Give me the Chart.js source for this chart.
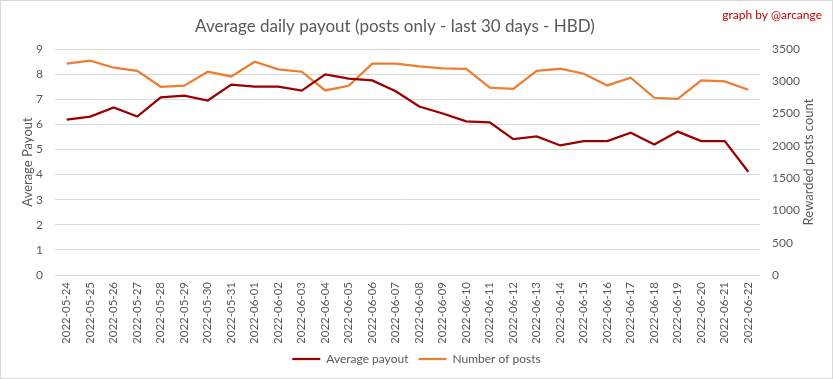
<!DOCTYPE html>
<html>
<head>
<meta charset="utf-8">
<script src="https://cdn.jsdelivr.net/npm/chart.js@4/dist/chart.umd.min.js"></script>
<style>
html,body{margin:0;padding:0;background:#fff;}
#wrap{width:833px;height:379px;position:relative;}
</style>
</head>
<body>
<div id="wrap"><canvas id="c" width="833" height="379"></canvas></div>
<script>
const categories = ["2022-05-24","2022-05-25","2022-05-26","2022-05-27","2022-05-28","2022-05-29","2022-05-30","2022-05-31","2022-06-01","2022-06-02","2022-06-03","2022-06-04","2022-06-05","2022-06-06","2022-06-07","2022-06-08","2022-06-09","2022-06-10","2022-06-11","2022-06-12","2022-06-13","2022-06-14","2022-06-15","2022-06-16","2022-06-17","2022-06-18","2022-06-19","2022-06-20","2022-06-21","2022-06-22"];
const averagePayout = [6.19,6.31,6.67,6.31,7.07,7.14,6.95,7.58,7.50,7.50,7.34,7.99,7.82,7.75,7.32,6.71,6.43,6.12,6.08,5.41,5.52,5.16,5.33,5.33,5.67,5.20,5.71,5.33,5.33,4.11];
const numberOfPosts = [3272,3318,3210,3163,2915,2931,3148,3075,3303,3184,3148,2858,2931,3272,3272,3230,3199,3194,2900,2884,3163,3194,3117,2936,3055,2745,2729,3013,2998,2869];
const leftTicks = {min:0, max:9, step:1};
const rightTicks = {min:0, max:3500, step:500};
const titleText = 'Average daily payout (posts only - last 30 days - HBD)';

const FONT = "Lato, 'Open Sans', sans-serif";
const GREY = "#595959";

const decor = {
  id:'decor',
  beforeDraw(chart){
    const ctx = chart.ctx;
    ctx.save();
    ctx.fillStyle = '#fff';
    ctx.fillRect(0,0,chart.width,chart.height);
    ctx.restore();
  },
  afterDraw(chart){
    const ctx = chart.ctx, a = chart.chartArea;
    ctx.save();
    ctx.strokeStyle = '#d9d9d9';
    ctx.lineWidth = 1;
    ctx.strokeRect(0.5,0.5,chart.width-1,chart.height-1);
    // title
    ctx.fillStyle = GREY;
    ctx.font = "17px " + FONT;
    ctx.textAlign = 'center';
    ctx.textBaseline = 'alphabetic';
    ctx.fillText(titleText, 395, 32);
    // credit
    ctx.fillStyle = '#c00000';
    ctx.font = "12px " + FONT;
    ctx.textAlign = 'right';
    ctx.textBaseline = 'middle';
    ctx.fillText('graph by @arcange', 822, 15);
    // right axis title
    ctx.translate(809, (a.top + a.bottom)/2);
    ctx.rotate(-Math.PI/2);
    ctx.fillStyle = GREY;
    ctx.font = "13px " + FONT;
    ctx.textAlign = 'center';
    ctx.fillText('Rewarded posts count', 0, 0);
    ctx.restore();
  }
};

new Chart(document.getElementById('c'), {
  type:'line',
  data:{
    labels: categories,
    datasets:[
      {label:'Average payout', data: averagePayout, yAxisID:'y', borderColor:'#9a0000', backgroundColor:'#9a0000', borderWidth:2.25, pointRadius:0, tension:0},
      {label:'Number of posts', data: numberOfPosts, yAxisID:'y1', borderColor:'#ed7d31', backgroundColor:'#ed7d31', borderWidth:2.25, pointRadius:0, tension:0}
    ]
  },
  options:{
    responsive:false,
    animation:false,
    events:[],
    layout:{padding:{left:0,right:0,top:49,bottom:4}},
    plugins:{
      title:{display:false},
      legend:{position:'bottom', labels:{usePointStyle:true, pointStyle:'line', pointStyleWidth:28, color:GREY, font:{family:FONT, size:12}, padding:10}},
      tooltip:{enabled:false}
    },
    scales:{
      x:{
        offset:true,
        grid:{display:false, drawTicks:false},
        border:{display:false},
        ticks:{color:GREY, font:{family:FONT, size:11.5}, minRotation:90, maxRotation:90, padding:7, autoSkip:false},
        afterFit(s){ s.height = 68; }
      },
      y:{
        position:'left', min:leftTicks.min, max:leftTicks.max,
        grid:{color:'#d9d9d9', drawTicks:false, lineWidth:1},
        border:{display:false},
        ticks:{stepSize:leftTicks.step, color:GREY, font:{family:FONT, size:12}, padding:12},
        title:{display:true, text:'Average Payout', color:GREY, font:{family:FONT, size:13}, padding:{top:20,bottom:0}},
        afterFit(s){ s.width = 55; }
      },
      y1:{
        position:'right', min:rightTicks.min, max:rightTicks.max,
        grid:{display:false, drawTicks:false},
        border:{display:false},
        ticks:{stepSize:rightTicks.step, color:GREY, font:{family:FONT, size:12}, padding:12, callback:(v)=>String(v)},
        afterFit(s){ s.width = 73; }
      }
    }
  },
  plugins:[decor]
});
</script>
</body>
</html>
